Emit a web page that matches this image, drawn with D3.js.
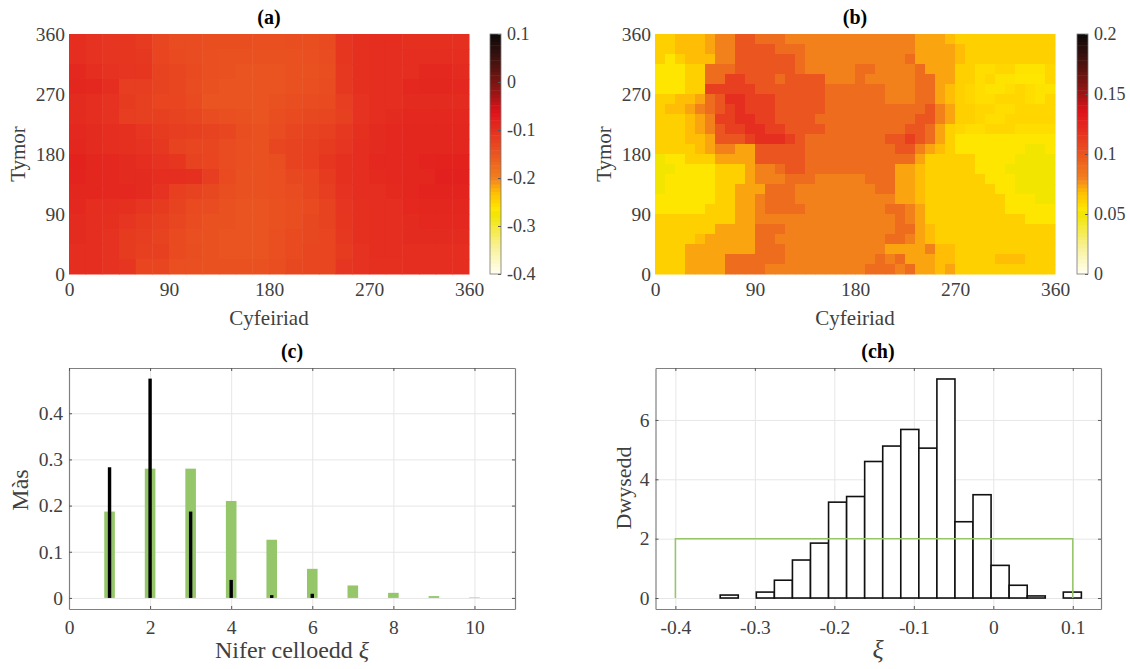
<!DOCTYPE html>
<html>
<head>
<meta charset="utf-8">
<script src="https://cdn.jsdelivr.net/npm/d3@7"></script>
<style>
  body { margin: 0; background: #fff; }
  text { font-family: "Liberation Serif", serif; }
</style>
</head>
<body>
<div id="chart"></div>
<script>
var width = 1130;
var height = 669;

// map (a): values in thousandths, top row is tymor 360, 15 deg columns
var mapA = [
  [-100,-105,-108,-110,-115,-130,-138,-138,-140,-140,-140,-142,-142,-140,-140,-135,-108,-102,-100,-100,-102,-102,-102,-102],
  [-98,-105,-108,-110,-112,-128,-135,-138,-142,-145,-145,-145,-145,-145,-142,-138,-110,-102,-100,-100,-100,-100,-100,-100],
  [-92,-98,-105,-108,-110,-125,-130,-135,-142,-145,-148,-148,-148,-145,-145,-140,-112,-102,-100,-98,-98,-92,-92,-95],
  [-90,-92,-100,-118,-118,-125,-130,-138,-145,-148,-148,-148,-148,-145,-142,-138,-112,-102,-100,-98,-92,-90,-90,-92],
  [-95,-98,-105,-115,-122,-128,-128,-135,-148,-148,-148,-148,-145,-140,-138,-135,-118,-105,-100,-98,-95,-95,-95,-95],
  [-95,-98,-105,-118,-122,-122,-125,-130,-138,-142,-145,-148,-140,-135,-132,-130,-122,-105,-100,-96,-92,-92,-92,-92],
  [-92,-95,-100,-102,-108,-115,-118,-122,-125,-130,-140,-145,-138,-130,-125,-122,-112,-102,-96,-92,-90,-88,-88,-90],
  [-88,-95,-100,-102,-105,-112,-125,-130,-130,-138,-142,-145,-130,-125,-122,-115,-108,-100,-96,-92,-90,-88,-88,-88],
  [-82,-88,-92,-95,-100,-105,-110,-125,-128,-138,-142,-145,-140,-125,-120,-110,-102,-98,-92,-92,-88,-85,-82,-82],
  [-85,-90,-92,-95,-95,-100,-100,-102,-118,-135,-145,-145,-142,-132,-128,-115,-102,-98,-94,-92,-90,-88,-80,-80],
  [-88,-90,-92,-92,-95,-105,-120,-125,-132,-140,-145,-145,-142,-138,-130,-118,-105,-100,-98,-94,-90,-85,-85,-85],
  [-92,-98,-100,-102,-108,-115,-125,-135,-138,-145,-148,-148,-145,-140,-135,-125,-108,-102,-100,-98,-92,-88,-88,-90],
  [-95,-100,-102,-108,-115,-122,-130,-138,-145,-145,-148,-148,-145,-140,-132,-125,-110,-102,-100,-98,-95,-92,-92,-92],
  [-95,-100,-105,-115,-118,-125,-135,-142,-145,-148,-148,-148,-142,-135,-132,-128,-112,-102,-100,-98,-95,-95,-95,-95],
  [-98,-100,-105,-115,-122,-122,-135,-140,-145,-148,-148,-148,-142,-135,-130,-128,-115,-105,-100,-100,-98,-98,-98,-98],
  [-100,-100,-105,-108,-128,-130,-142,-142,-145,-145,-145,-145,-140,-132,-130,-130,-108,-105,-102,-102,-100,-100,-100,-100]
];

// map (b): same idea, 9 deg columns
var mapB = [
  [62,62,68,68,68,73,80,80,100,100,90,90,90,80,80,80,80,80,80,80,80,80,80,80,80,80,73,73,73,68,62,62,62,62,62,62,62,62,62,62],
  [62,62,68,68,68,73,80,80,100,100,100,100,90,90,90,80,80,80,80,80,80,80,80,80,80,80,73,73,73,73,68,62,62,62,62,62,62,62,62,62],
  [62,55,62,68,68,68,80,80,100,100,100,100,100,100,90,80,80,80,80,80,80,80,80,80,80,90,73,73,73,73,68,62,62,62,62,62,62,62,62,62],
  [55,55,55,62,62,90,90,90,100,100,100,100,100,100,90,80,80,80,80,80,90,90,80,80,80,80,90,73,73,73,62,62,58,58,60,60,56,56,56,60],
  [55,55,55,62,62,90,90,112,112,100,100,100,90,100,100,100,100,80,80,80,90,80,80,80,80,80,90,90,73,73,62,62,58,60,56,56,55,55,55,60],
  [55,55,55,62,62,112,112,112,112,112,100,100,100,100,100,100,100,90,90,90,90,90,90,80,80,80,90,90,73,68,62,60,58,56,56,58,60,58,56,56],
  [62,62,68,68,73,90,100,120,120,112,112,112,100,100,100,100,100,90,90,90,90,90,90,80,80,80,90,90,73,68,62,60,58,58,60,60,60,58,56,60],
  [62,68,68,73,80,90,100,112,120,112,112,112,100,100,100,100,100,90,90,90,90,90,90,90,90,90,90,100,80,73,62,62,60,60,58,58,60,60,60,60],
  [62,62,62,68,73,80,112,112,120,120,112,112,100,100,100,100,90,90,90,90,90,90,90,90,90,90,100,100,80,73,62,62,60,58,58,60,60,60,60,60],
  [62,62,62,68,73,80,100,112,112,120,120,112,112,100,100,100,100,90,90,90,90,90,90,90,90,100,100,90,73,62,60,58,58,60,60,60,58,58,58,58],
  [62,62,62,68,68,73,100,100,100,112,120,120,120,112,100,90,90,90,90,90,90,90,90,100,100,112,100,90,73,62,55,55,55,55,55,55,55,55,55,55],
  [62,62,62,62,68,73,80,80,73,73,100,100,100,100,100,90,90,90,90,90,90,90,90,90,100,100,80,73,68,62,55,55,55,55,55,55,55,50,50,55],
  [50,55,55,62,62,62,73,73,73,73,100,100,100,100,100,90,90,90,90,90,90,90,90,90,90,90,73,62,62,62,62,62,55,55,55,55,50,50,50,50],
  [50,50,55,55,55,55,62,62,62,73,80,80,90,100,100,90,90,90,90,90,90,90,90,90,73,73,68,62,62,62,62,62,55,55,55,50,50,50,50,50],
  [50,55,55,55,55,55,62,62,62,73,80,80,80,90,90,90,80,80,80,80,80,90,90,90,73,73,68,62,62,62,62,62,62,55,55,55,50,50,50,50],
  [50,55,55,55,55,55,62,62,73,73,73,90,90,90,80,80,80,80,80,80,80,80,90,90,73,73,68,62,62,62,62,62,62,62,55,55,50,50,50,50],
  [55,55,55,55,55,55,62,62,73,73,80,90,90,90,80,80,80,80,80,80,80,80,80,80,73,73,68,62,62,62,62,62,62,62,62,55,55,55,50,50],
  [55,55,55,55,55,62,62,62,73,73,80,90,90,90,90,80,80,80,80,80,80,80,80,90,90,80,73,62,62,62,62,62,62,62,62,55,55,55,55,55],
  [62,62,62,62,62,62,62,62,73,73,80,80,80,80,80,80,80,80,80,80,80,80,80,80,90,80,73,62,62,62,62,62,62,62,62,62,62,55,55,55],
  [62,62,62,62,62,62,73,73,73,73,90,90,90,80,80,80,80,80,80,80,80,80,80,80,90,90,73,68,62,62,62,62,62,62,62,62,62,62,62,62],
  [62,62,62,62,68,73,73,73,73,73,90,90,80,80,80,80,80,80,80,80,80,80,80,90,90,80,73,68,62,62,62,62,62,62,62,62,62,62,62,62],
  [62,62,62,73,73,73,73,73,73,73,90,90,90,80,80,80,80,80,80,80,80,80,80,73,73,73,73,80,68,68,62,62,62,62,62,62,62,62,62,62],
  [62,62,62,73,73,73,73,90,90,90,90,90,90,80,80,80,80,80,80,80,80,80,90,80,90,73,73,73,68,68,62,62,62,62,68,68,68,62,62,62],
  [62,62,62,73,73,73,73,90,90,90,90,80,80,80,80,80,80,80,80,80,80,90,90,90,80,90,73,73,68,73,62,62,62,62,62,62,62,62,62,62]
];

// (c) mass
var cellCounts = [1, 2, 3, 4, 5, 6, 7, 8, 9, 10];
var massPrior = [0.187, 0.28, 0.28, 0.21, 0.126, 0.063, 0.027, 0.011, 0.004, 0.001];
var massPosterior = [0.283, 0.475, 0.187, 0.039, 0.006, 0.009, 0, 0, 0, 0];

// (ch) density
var histStart = -0.3436;
var histBinWidth = 0.02272;
var histValues = [0.1, 0, 0.2, 0.6, 1.28, 1.85, 3.23, 3.42, 4.6, 5.12, 5.68, 5.05, 7.38, 2.57, 3.48, 1.1, 0.43, 0.07, 0, 0.2];
var uniformX = [-0.4, -0.4, 0.1, 0.1];
var uniformY = [0, 2, 2, 0];

var heatXTicks = [0, 90, 180, 270, 360];
var heatYTicks = [0, 90, 180, 270, 360];
var barXTicks = [0, 2, 4, 6, 8, 10];
var barYTicks = [0, 0.1, 0.2, 0.3, 0.4];
var histXTicks = [-0.4, -0.3, -0.2, -0.1, 0, 0.1];
var histYTicks = [0, 2, 4, 6];
var cbarTicksA = [-0.4, -0.3, -0.2, -0.1, 0, 0.1];
var cbarTicksB = [0, 0.05, 0.1, 0.15, 0.2];

var cmapStops = [0, 0.12, 0.25, 0.275, 0.31, 0.34, 0.37, 0.4, 0.45, 0.5, 0.56, 0.6, 0.675, 0.75, 0.85, 1];
var cmapColors = ["#fffff5", "#f8f090", "#f2e500", "#ffe600", "#ffd000", "#ffbe05", "#f9a012", "#f2801b", "#ee6c1e", "#ea5520", "#e73f20", "#e52e20", "#e0141a", "#9e1515", "#5a1410", "#0a0a0a"];

var txt = "#404040";
var green = "#96c66a";
var tickFont = 19.5;

var svg = d3.select("#chart").append("svg")
  .attr("width", width)
  .attr("height", height)
  .style("display", "block");

function fmt(d) {
  return String(d);
}

function cmap(domain) {
  var t = d3.scaleLinear().domain(domain).range([0, 1]);
  var c = d3.scaleLinear().domain(cmapStops).range(cmapColors);
  return function(v) { return c(t(v)); };
}

function title(str, x, y) {
  svg.append("text").attr("x", x).attr("y", y)
    .attr("text-anchor", "middle")
    .attr("font-size", 20).attr("font-weight", "bold").attr("fill", "#000")
    .text(str);
}

function xlabel(str, x, y, size) {
  return svg.append("text").attr("x", x).attr("y", y)
    .attr("text-anchor", "middle")
    .attr("font-size", size).attr("fill", txt)
    .text(str);
}

function ylabel(str, x, y, size) {
  svg.append("text")
    .attr("transform", "translate(" + x + "," + y + ") rotate(-90)")
    .attr("text-anchor", "middle")
    .attr("font-size", size).attr("fill", txt)
    .text(str);
}

function styleLabels(g) {
  g.selectAll("text")
    .attr("font-size", tickFont)
    .attr("fill", txt);
}

function heatmap(grid, x0, cbarX, domain, cbarTicks, name) {
  var x1 = x0 + 400, y0 = 34, y1 = 274;
  var color = cmap(domain);

  var colBand = d3.scaleBand().domain(d3.range(grid[0].length)).range([x0, x1]);
  var rowBand = d3.scaleBand().domain(d3.range(grid.length)).range([y0, y1]);

  var cells = [];
  grid.forEach(function(row, r) {
    row.forEach(function(v, c) {
      cells.push({ r: r, c: c, v: v / 1000 });
    });
  });

  svg.append("g").selectAll("rect")
    .data(cells)
    .enter().append("rect")
    .attr("x", function(d) { return colBand(d.c); })
    .attr("y", function(d) { return rowBand(d.r); })
    .attr("width", colBand.bandwidth() + 0.5)
    .attr("height", rowBand.bandwidth() + 0.5)
    .attr("fill", function(d) { return color(d.v); });

  var x = d3.scaleLinear().domain([0, 360]).range([x0, x1]);
  var y = d3.scaleLinear().domain([0, 360]).range([y1, y0]);

  svg.append("g")
    .attr("transform", "translate(0," + y1 + ")")
    .call(d3.axisBottom(x).tickValues(heatXTicks).tickFormat(fmt).tickSize(0).tickPadding(8))
    .call(styleLabels)
    .select(".domain").remove();

  svg.append("g")
    .attr("transform", "translate(" + x0 + ",0)")
    .call(d3.axisLeft(y).tickValues(heatYTicks).tickFormat(fmt).tickSize(0).tickPadding(4))
    .call(styleLabels)
    .select(".domain").remove();

  // colorbar
  var cy = d3.scaleLinear().domain(domain).range([y1, y0]);
  var steps = d3.range(64).map(function(i) {
    return domain[0] + (domain[1] - domain[0]) * i / 64;
  });
  var stepH = (y1 - y0) / 64;
  svg.append("g").selectAll("rect")
    .data(steps)
    .enter().append("rect")
    .attr("x", cbarX)
    .attr("width", 11)
    .attr("y", function(d) { return cy(d) - stepH; })
    .attr("height", stepH + 0.5)
    .attr("fill", function(d) { return color(d + (domain[1] - domain[0]) / 128); });

  var axis = svg.append("g")
    .attr("transform", "translate(" + (cbarX + 11) + ",0)")
    .call(d3.axisRight(cy).tickValues(cbarTicks).tickFormat(fmt).tickSizeInner(-3).tickSizeOuter(0).tickPadding(6))
    .call(styleLabels);
  axis.selectAll("text").attr("font-size", 18);
  axis.selectAll("line").attr("stroke", "#555");
  axis.select(".domain").remove();

  svg.append("rect")
    .attr("x", cbarX).attr("y", y0).attr("width", 11).attr("height", y1 - y0)
    .attr("fill", "none").attr("stroke", "#777").attr("stroke-width", 0.8);

  title(name, (x0 + x1) / 2, 24);
  xlabel("Cyfeiriad", (x0 + x1) / 2, 325, 21);
  ylabel("Tymor", x0 - 44, 154, 21);
}

// grid for the two lower panels
function frame(x, y, xTicks, yTicks) {
  var xr = x.range(), yr = y.range();
  var w = xr[1] - xr[0];
  var h = yr[0] - yr[1];

  var gx = svg.append("g").attr("transform", "translate(0," + yr[1] + ")")
    .call(d3.axisBottom(x).tickValues(xTicks).tickFormat("").tickSize(h));
  gx.selectAll("line").attr("stroke", "#e6e6e6");
  gx.select(".domain").remove();

  var gy = svg.append("g").attr("transform", "translate(" + xr[0] + ",0)")
    .call(d3.axisRight(y).tickValues(yTicks).tickFormat("").tickSize(w));
  gy.selectAll("line").attr("stroke", "#e6e6e6");
  gy.select(".domain").remove();
}

// box and tick marks, drawn after the marks
function frameTop(x, y, xTicks, yTicks, yFmt) {
  var xr = x.range(), yr = y.range();

  var bottom = svg.append("g").attr("transform", "translate(0," + yr[0] + ")")
    .call(d3.axisBottom(x).tickValues(xTicks).tickFormat(fmt).tickSizeInner(-3).tickSizeOuter(0).tickPadding(11))
    .call(styleLabels);
  var left = svg.append("g").attr("transform", "translate(" + xr[0] + ",0)")
    .call(d3.axisLeft(y).tickValues(yTicks).tickFormat(yFmt).tickSizeInner(-3).tickSizeOuter(0).tickPadding(6))
    .call(styleLabels);
  var top = svg.append("g").attr("transform", "translate(0," + yr[1] + ")")
    .call(d3.axisTop(x).tickValues(xTicks).tickFormat("").tickSizeInner(-3).tickSizeOuter(0));
  var right = svg.append("g").attr("transform", "translate(" + xr[1] + ",0)")
    .call(d3.axisRight(y).tickValues(yTicks).tickFormat("").tickSizeInner(-3).tickSizeOuter(0));

  [bottom, left, top, right].forEach(function(g) {
    g.selectAll("line").attr("stroke", "#555");
    g.select(".domain").attr("stroke", "#808080").attr("stroke-width", 1.2);
  });
}

heatmap(mapA, 69, 490, [-0.4, 0.1], cbarTicksA, "(a)");
heatmap(mapB, 655, 1077, [0, 0.2], cbarTicksB, "(b)");

// (c)
var xC = d3.scaleLinear().domain([0, 11]).range([69, 515]);
var yC = d3.scaleLinear().domain([-0.024, 0.498]).range([609, 368]);

frame(xC, yC, barXTicks, barYTicks);

svg.append("g").selectAll("rect")
  .data(cellCounts)
  .enter().append("rect")
  .attr("x", function(d) { return xC(d) - 5.3; })
  .attr("width", 10.6)
  .attr("y", function(d, i) { return yC(massPrior[i]); })
  .attr("height", function(d, i) { return yC(0) - yC(massPrior[i]); })
  .attr("fill", green);

svg.append("g").selectAll("rect")
  .data(cellCounts)
  .enter().append("rect")
  .attr("x", function(d) { return xC(d) - 1.7; })
  .attr("width", 3.4)
  .attr("y", function(d, i) { return yC(massPosterior[i]); })
  .attr("height", function(d, i) { return yC(0) - yC(massPosterior[i]); })
  .attr("fill", "#000");

frameTop(xC, yC, barXTicks, barYTicks, fmt);

title("(c)", 292, 358);
var cLabel = xlabel("Nifer celloedd ", 292, 658, 24);
cLabel.append("tspan").attr("font-style", "italic").text("\u03BE");
ylabel("M\u00E0s", 28, 490, 24);

// (ch)
var xH = d3.scaleLinear().domain([-0.425, 0.1355]).range([655.5, 1101]);
var yH = d3.scaleLinear().domain([-0.37, 7.75]).range([609, 368]);

frame(xH, yH, histXTicks, histYTicks);

svg.append("g").selectAll("rect")
  .data(histValues)
  .enter().append("rect")
  .attr("x", function(d, i) { return xH(histStart + i * histBinWidth); })
  .attr("width", xH(histBinWidth) - xH(0))
  .attr("y", function(d) { return yH(d); })
  .attr("height", function(d) { return yH(0) - yH(d); })
  .attr("fill", "#fff")
  .attr("stroke", "#111")
  .attr("stroke-width", 1.6);

var uniformLine = d3.line()
  .x(function(d) { return xH(d[0]); })
  .y(function(d) { return yH(d[1]); });

svg.append("path")
  .attr("d", uniformLine(d3.zip(uniformX, uniformY)))
  .attr("fill", "none")
  .attr("stroke", green)
  .attr("stroke-width", 1.5);

frameTop(xH, yH, histXTicks, histYTicks, fmt);

title("(ch)", 878, 358);
xlabel("", 878, 658, 26).append("tspan").attr("font-style", "italic").text("\u03BE");
ylabel("Dwysedd", 631, 488, 22);
</script>
</body>
</html>
